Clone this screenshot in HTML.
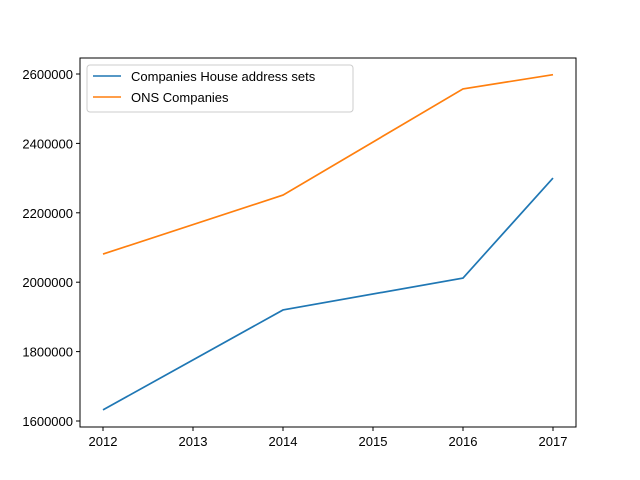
<!DOCTYPE html>
<html><head><meta charset="utf-8"><style>
body{margin:0;background:#fff;}
svg{display:block;font-family:"Liberation Sans","DejaVu Sans",sans-serif;}
</style></head><body>
<svg id="chart" width="640" height="480">
<rect x="0" y="0" width="640" height="480" fill="#fff"/>
<g id="ticks"></g>
<g id="lines"></g>
<rect x="80" y="58" width="496" height="369" fill="none" stroke="#000" stroke-width="1"/>
<g>
<rect x="87" y="65" width="266" height="47" rx="3" fill="#fff" fill-opacity="0.8" stroke="#ccc"/>
<line x1="93" y1="76" x2="121" y2="76" stroke="#1f77b4" stroke-width="1.5"/>
<text x="131" y="81" font-size="13" fill="#000">Companies House address sets</text>
<line x1="93" y1="97" x2="121" y2="97" stroke="#ff7f0e" stroke-width="1.5"/>
<text x="131" y="102" font-size="13" fill="#000">ONS Companies</text>
</g>
</svg>
<script>
const years=[2012,2014,2016,2017];
const companiesHouse=[1632000,1920000,2012000,2300000];
const onsCompanies=[2081000,2251000,2557000,2598000];
const xTicks=[2012,2013,2014,2015,2016,2017];
const yTicks=[1600000,1800000,2000000,2200000,2400000,2600000];
const NS="http://www.w3.org/2000/svg";
function xs(v){return 103+(v-2012)*90;}
function ys(v){return 421-(v-1600000)*347/1000000;}
const tg=document.getElementById('ticks');
function mk(t,a,p){const e=document.createElementNS(NS,t);for(const k in a)e.setAttribute(k,a[k]);p.appendChild(e);return e;}
xTicks.forEach(t=>{
 const l=mk('line',{x1:xs(t),x2:xs(t),y1:427,y2:431,stroke:'#000'},tg);
 
 
 const tx=mk('text',{x:xs(t),y:446,'font-size':13,'text-anchor':'middle'},tg);
 tx.textContent=t;
 
 
});
yTicks.forEach(t=>{
 const l=mk('line',{x1:76,x2:80,y1:ys(t),y2:ys(t),stroke:'#000'},tg);
 
 
 const tx=mk('text',{x:73,y:ys(t)+5,'font-size':13,'text-anchor':'end'},tg);
 tx.textContent=t;
 
 
});
const lg=document.getElementById('lines');
function line(vals,color,name){
 const pts=years.map((y,i)=>xs(y)+','+ys(vals[i])).join(' ');
 const p=mk('polyline',{points:pts,fill:'none',stroke:color,'stroke-width':1.7},lg);
 
 
}
line(companiesHouse,'#1f77b4','companies-house-line');
line(onsCompanies,'#ff7f0e','ons-companies-line');
</script>
</body></html>
